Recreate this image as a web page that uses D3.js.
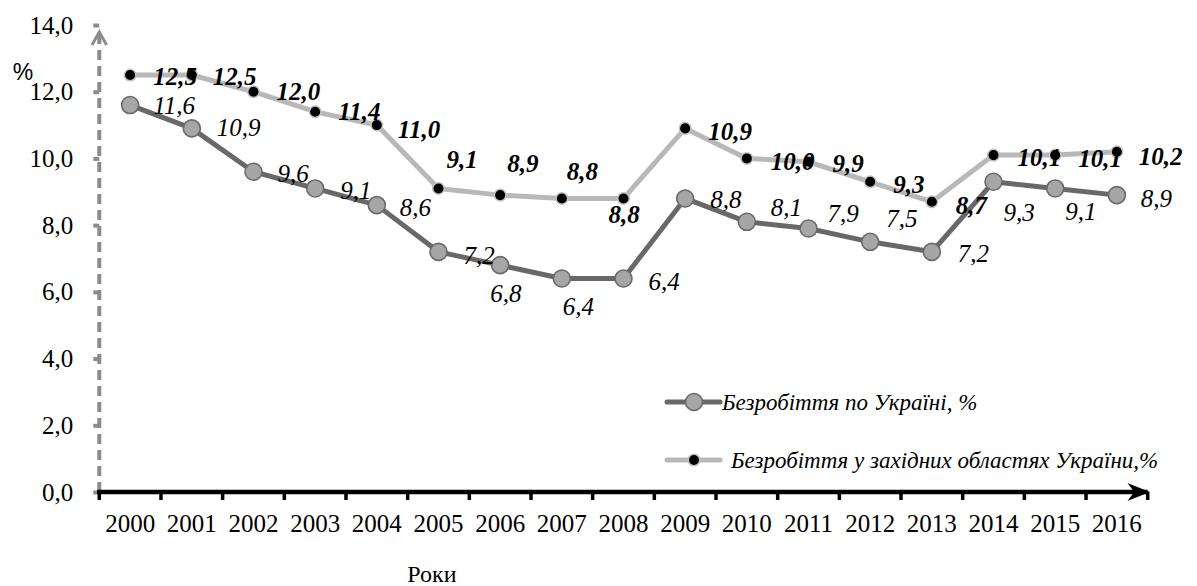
<!DOCTYPE html>
<html><head><meta charset="utf-8">
<script src="https://cdn.jsdelivr.net/npm/d3@7"></script>
<style>body{margin:0;background:#fff}svg{display:block}
svg text{font-family:"Liberation Serif","Times New Roman",Times,serif;}
svg text.sans{font-family:"Liberation Sans",Arial,sans-serif;}
</style>
</head><body><svg id="c" width="1197" height="586"></svg>
<script>
// ---------- data ----------
const years = ["2000","2001","2002","2003","2004","2005","2006","2007","2008","2009","2010","2011","2012","2013","2014","2015","2016"];
const ukraine = [11.6,10.9,9.6,9.1,8.6,7.2,6.8,6.4,6.4,8.8,8.1,7.9,7.5,7.2,9.3,9.1,8.9];
const western = [12.5,12.5,12.0,11.4,11.0,9.1,8.9,8.8,8.8,10.9,10.0,9.9,9.3,8.7,10.1,10.1,10.2];
const yTicks = [0,2,4,6,8,10,12,14];
const seriesNames = ["Безробіття по Україні, %","Безробіття у західних областях України,%"];
const xTitle = "Роки";
const yTitle = "%";

// ---------- label placement (layout, not data) ----------
const ukraineLabelOffset = [[23,0],[25,-1],[24,1],[25,2],[23,2],[25,3],[-10,28],[1,28],[25,3],[25,1],[24,-15],[19,-15],[16,-24],[26,1],[10,30],[10,23],[24,3]];
const westernLabelOffset = [[23,1],[21,1],[23,0],[23,0],[21,4],[8,-29],[7,-32],[5,-27],[-15,16],[23,3],[24,3],[24,1],[23,2],[24,3],[24,2],[23,3],[22,4]];

const fmt = v => d3.format(".1f")(v).replace(".", ",");

const svg = d3.select("#c");
const x = d3.scaleBand().domain(years).range([99.3, 1147.7]).padding(0);
const y = d3.scaleLinear().domain([0, 14]).range([492, 25]);
const cx = d => x(d) + x.bandwidth() / 2;

const defs = svg.append("defs");
defs.append("marker").attr("id","arrX").attr("viewBox","0 0 10 10").attr("refX",9).attr("refY",5)
  .attr("markerWidth",5).attr("markerHeight",5).attr("markerUnits","strokeWidth").attr("orient","auto")
  .append("path").attr("d","M0,1 L10,5 L0,9 L3,5 Z").attr("fill","#000");

// ---------- y axis ----------
const yAxis = d3.axisLeft(y).tickValues(yTicks).tickFormat(fmt).tickSize(6).tickPadding(20);
const gy = svg.append("g").attr("transform","translate(99.3,0)").call(yAxis);
gy.attr("font-family",null).attr("font-size",null);
gy.select(".domain").remove();
gy.selectAll(".tick line").attr("stroke","#8c8c8c").attr("stroke-width",4).attr("x2",-6);
gy.selectAll(".tick text").style("font-size","25px").attr("fill","#000");
svg.append("line").attr("x1",99.3).attr("x2",99.3).attr("y1",y(0)).attr("y2",y(14)+8)
  .attr("stroke","#8c8c8c").attr("stroke-width",4).attr("stroke-dasharray","10,6");
svg.append("path").attr("d",`M${92},${y(14)+20} L99.3,${y(14)+7} L${106.6},${y(14)+20}`)
  .attr("fill","none").attr("stroke","#8c8c8c").attr("stroke-width",3);

// ---------- x axis ----------
const xAxis = d3.axisBottom(x).tickSize(0).tickPadding(22);
const gx = svg.append("g").attr("transform",`translate(0,${y(0)})`).call(xAxis);
gx.attr("font-family",null).attr("font-size",null);
gx.select(".domain").remove();
gx.selectAll(".tick text").style("font-size","25px").attr("fill","#000");
const bounds = years.map(d => x(d)).concat([x.range()[1]]);
svg.append("g").selectAll("line").data(bounds).join("line")
  .attr("x1",d=>d).attr("x2",d=>d).attr("y1",y(0)).attr("y2",y(0)+8)
  .attr("stroke","#000").attr("stroke-width",3.5);
svg.append("line").attr("x1",97).attr("x2",x.range()[1]).attr("y1",y(0)).attr("y2",y(0))
  .attr("stroke","#000").attr("stroke-width",4.5).attr("marker-end","url(#arrX)");

// titles
svg.append("text").attr("x",432).attr("y",582).attr("text-anchor","middle")
  .style("font-size","24px").text(xTitle);
svg.append("text").attr("class","sans").attr("x",23).attr("y",80).attr("text-anchor","middle")
  .style("font-size","23px").text(yTitle);

// ---------- series ----------
const line = d3.line().x((d,i)=>cx(years[i])).y(d=>y(d));
const darkLine = "#686868", lightLine = "#b8b8b8";

svg.append("path").datum(western).attr("d",line).attr("fill","none")
  .attr("stroke",lightLine).attr("stroke-width",5).attr("stroke-linejoin","round");
svg.append("path").datum(ukraine).attr("d",line).attr("fill","none")
  .attr("stroke",darkLine).attr("stroke-width",5).attr("stroke-linejoin","round");

svg.append("g").selectAll("circle").data(western).join("circle")
  .attr("cx",(d,i)=>cx(years[i])).attr("cy",d=>y(d)).attr("r",5.8)
  .attr("fill","#000").attr("stroke","#c4c4c4").attr("stroke-width",1.5);
svg.append("g").selectAll("circle").data(ukraine).join("circle")
  .attr("cx",(d,i)=>cx(years[i])).attr("cy",d=>y(d)).attr("r",8.5)
  .attr("fill","#a6a6a6").attr("stroke","#6a6a6a").attr("stroke-width",1.6);

// ---------- data labels ----------
svg.append("g").selectAll("text").data(ukraine).join("text")
  .attr("x",(d,i)=>cx(years[i])+ukraineLabelOffset[i][0])
  .attr("y",(d,i)=>y(d)+ukraineLabelOffset[i][1]).attr("dy","0.35em")
  .style("font-size","25px").style("font-style","italic").attr("fill","#000")
  .text(fmt);
svg.append("g").selectAll("text").data(western).join("text")
  .attr("x",(d,i)=>cx(years[i])+westernLabelOffset[i][0])
  .attr("y",(d,i)=>y(d)+westernLabelOffset[i][1]).attr("dy","0.35em")
  .style("font-size","25px").style("font-style","italic").style("font-weight","bold").attr("fill","#000")
  .text(fmt);

// ---------- legend ----------
const legend = [
  {name: seriesNames[0], stroke: darkLine, r: 8.5, fill: "#a6a6a6", ms: "#6a6a6a", y: 402, tx: 722},
  {name: seriesNames[1], stroke: lightLine, r: 5.8, fill: "#000", ms: "#c4c4c4", y: 460, tx: 731}
];
const lg = svg.append("g").selectAll("g").data(legend).join("g");
lg.append("line").attr("x1",667).attr("x2",720).attr("y1",d=>d.y).attr("y2",d=>d.y)
  .attr("stroke",d=>d.stroke).attr("stroke-width",5).attr("stroke-linecap","round");
lg.append("circle").attr("cx",694).attr("cy",d=>d.y).attr("r",d=>d.r)
  .attr("fill",d=>d.fill).attr("stroke",d=>d.ms).attr("stroke-width",1.6);
lg.append("text").attr("x",d=>d.tx).attr("y",d=>d.y).attr("dy","0.35em")
  .style("font-size","23px").style("font-style","italic").text(d=>d.name);
</script></body></html>
